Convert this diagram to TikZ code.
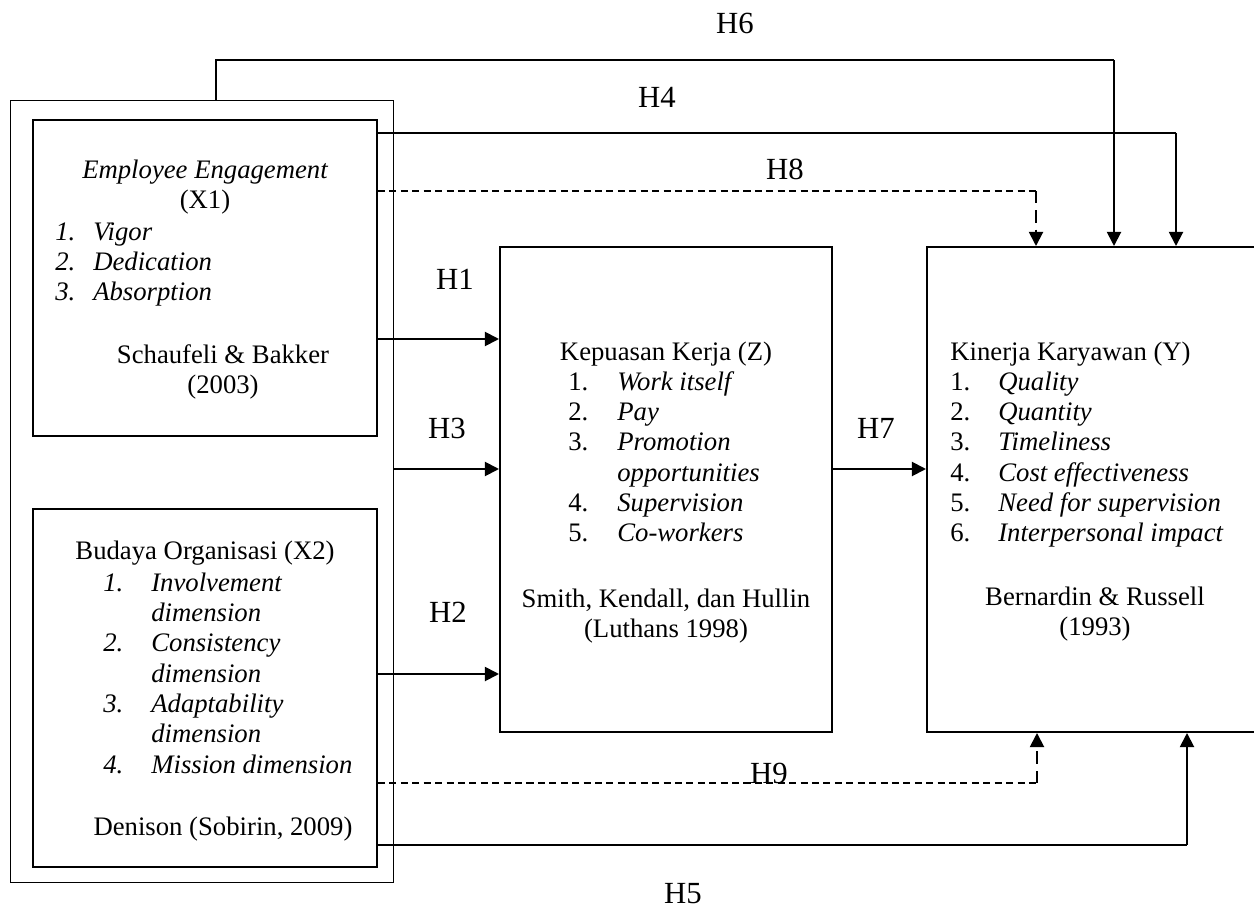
\documentclass[tikz,border=0pt]{standalone}
\usepackage{fontspec}
\setmainfont{Liberation Serif}
\usepackage{array}
\usetikzlibrary{arrows.meta}

\tikzset{
  every node/.style={font=\fontsize{15.2}{17.3}\selectfont},
  grpbox/.style={draw, line width=0.6pt, inner sep=0pt},
  varbox/.style={draw, line width=1.2pt, inner sep=0pt},
  txt/.style={inner sep=0pt},
  hlabel/.style={inner sep=0pt, font=\fontsize{17.5}{20}\selectfont},
  link/.style={line width=0.7pt},
  arr/.style={line width=1.1pt, -{Triangle[length=8pt,width=8pt]}},
  dlink/.style={line width=0.7pt, dash pattern=on 4pt off 2.5pt},
  darr/.style={arr, dash pattern=on 7pt off 4pt},
}

\begin{document}
\begin{tikzpicture}[x=0.02cm, y=-0.02cm]

  \useasboundingbox (0,0) rectangle (1254,909);
  \clip (0,0) rectangle (1254,909);

  % boxes
  \node[grpbox, minimum width=7.68cm, minimum height=15.66cm] (grp) at (202,491.5) {};
  \node[varbox, minimum width=6.88cm, minimum height=6.32cm] (eng) at (205,278) {};
  \node[varbox, minimum width=6.88cm, minimum height=7.16cm] (bud) at (205,688) {};
  \node[varbox, minimum width=6.64cm, minimum height=9.7cm] (kep) at (666,489.5) {};
  \node[varbox, minimum width=6.62cm, minimum height=9.7cm] (kin) at (1092.5,489.5) {};

  % X1
  \node[txt, anchor=base] (engT) at (205,178)
    {\begin{tabular}[t]{@{}c@{}}\itshape Employee Engagement\\(X1)\end{tabular}};
  \node[txt, anchor=base west] (engL) at (55,240)
    {\begin{tabular}[t]{@{}>{\itshape}p{0.76cm}@{}>{\itshape}l@{}}
      1. & Vigor\\ 2. & Dedication\\ 3. & Absorption
    \end{tabular}};
  \node[txt, anchor=base] (engA) at (223,363)
    {\begin{tabular}[t]{@{}c@{}}Schaufeli \& Bakker\\(2003)\end{tabular}};

  % X2
  \node[txt, anchor=base] (budT) at (205,559) {Budaya Organisasi (X2)};
  \node[txt, anchor=base west] (budL) at (103,591)
    {\begin{tabular}[t]{@{}>{\itshape}p{0.96cm}@{}>{\itshape}l@{}}
      1. & Involvement\\ & dimension\\ 2. & Consistency\\ & dimension\\
      3. & Adaptability\\ & dimension\\ 4. & Mission dimension
    \end{tabular}};
  \node[txt, anchor=base] (budA) at (223,835) {Denison (Sobirin, 2009)};

  % Z
  \node[txt, anchor=base] (kepT) at (666,360) {Kepuasan Kerja (Z)};
  \node[txt, anchor=base west] (kepL) at (568,390)
    {\begin{tabular}[t]{@{}p{0.98cm}@{}>{\itshape}l@{}}
      1. & Work itself\\ 2. & Pay\\ 3. & Promotion\\ & opportunities\\
      4. & Supervision\\ 5. & Co-workers
    \end{tabular}};
  \node[txt, anchor=base] (kepA) at (666,607)
    {\begin{tabular}[t]{@{}c@{}}Smith, Kendall, dan Hullin\\(Luthans 1998)\end{tabular}};

  % Y
  \node[txt, anchor=base west] (kinT) at (950,360) {Kinerja Karyawan (Y)};
  \node[txt, anchor=base west] (kinL) at (950,390)
    {\begin{tabular}[t]{@{}p{0.96cm}@{}>{\itshape}l@{}}
      1. & Quality\\ 2. & Quantity\\ 3. & Timeliness\\ 4. & Cost effectiveness\\
      5. & Need for supervision\\ 6. & Interpersonal impact
    \end{tabular}};
  \node[txt, anchor=base] (kinA) at (1095,605)
    {\begin{tabular}[t]{@{}c@{}}Bernardin \& Russell\\(1993)\end{tabular}};

  % labels
  \node[hlabel] (h1) at (455,279) {H1};
  \node[hlabel] (h2) at (448,612) {H2};
  \node[hlabel] (h3) at (447,428) {H3};
  \node[hlabel] (h4) at (657,97) {H4};
  \node[hlabel] (h5) at (683,894) {H5};
  \node[hlabel] (h6) at (735,23) {H6};
  \node[hlabel] (h7) at (876,428) {H7};
  \node[hlabel] (h8) at (785,169) {H8};
  \node[hlabel] (h9) at (769,773) {H9};

  % bends
  \coordinate (r1) at (0,339);
  \coordinate (r2) at (0,674);
  \coordinate (r3) at (0,469);
  \coordinate (c6a) at (216,60);
  \coordinate (c6b) at (1114,60);
  \coordinate (c4) at (1176,133);
  \coordinate (c8) at (1036,191);
  \coordinate (c9) at (1037,783);
  \coordinate (c5) at (1187,845);

  % connectors
  \draw[arr] (eng.east |- r1) -- (kep.west |- r1);
  \draw[arr] (bud.east |- r2) -- (kep.west |- r2);
  \draw[arr] (grp.east |- r3) -- (kep.west |- r3);
  \draw[arr] (kep.east |- r3) -- (kin.west |- r3);

  \draw[link] (grp.north -| c6a) -- (c6a) -- (c6b);
  \draw[arr] (c6b) -- (kin.north -| c6b);
  \draw[link] (eng.east |- c4) -- (c4);
  \draw[arr] (c4) -- (kin.north -| c4);
  \draw[dlink] (eng.east |- c8) -- (c8);
  \draw[darr] (c8) -- (kin.north -| c8);

  \draw[dlink] (bud.east |- c9) -- (c9);
  \draw[darr] (c9) -- (kin.south -| c9);
  \draw[link] (bud.east |- c5) -- (c5);
  \draw[arr] (c5) -- (kin.south -| c5);

\end{tikzpicture}
\end{document}
